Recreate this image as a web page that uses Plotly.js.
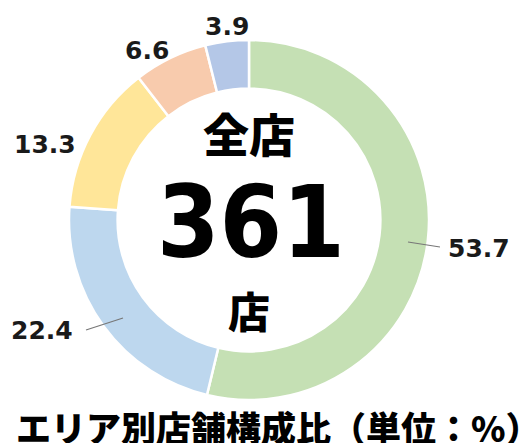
<!DOCTYPE html>
<html><head><meta charset="utf-8">
<script src="https://cdn.plot.ly/plotly-3.0.1.min.js"></script>
<style>html,body{margin:0;padding:0;background:#fff}#chart{width:521px;height:443px}</style>
</head><body><div id="chart"></div>
<script>
// ---- data ----
const areas = ["エリアA", "エリアB", "エリアC", "エリアD", "エリアE"];
const shares = [53.7, 22.4, 13.3, 6.6, 3.9];
const valueLabels = ["53.7", "22.4", "13.3", "6.6", "3.9"];
const totalStores = "361";
const titleText = "エリア別店舗構成比（単位：%）";

// ---- styles / layout helpers ----
const colors = ["#C5E0B4", "#BDD7EE", "#FFE699", "#F8CBAD", "#B4C7E7"];
const W = 521, H = 443;
const px = x => x / W, py = y => 1 - y / H;
// label positions (pixel centres) for each slice label
const labelPos = [[479, 248], [42, 330], [45, 144], [147, 51], [227, 26]];

const numFont = {family: "DejaVu Sans", size: 25, color: "#1a1a1a", weight: "bold"};
const cjk = "Noto Sans CJK JP";

const annotations = valueLabels.map((t, i) => ({
  text: "<b>" + t + "</b>", x: px(labelPos[i][0]), y: py(labelPos[i][1]),
  xref: "paper", yref: "paper", showarrow: false, xanchor: "center", yanchor: "middle",
  font: numFont
}));
annotations.push(
  {text: "全店", x: px(249), y: py(132), xref: "paper", yref: "paper", showarrow: false,
   xanchor: "center", yanchor: "middle", font: {family: cjk, size: 46, color: "#000", weight: 900}},
  {text: "<b>" + totalStores + "</b>", x: px(251), y: py(222), xref: "paper", yref: "paper", showarrow: false,
   xanchor: "center", yanchor: "middle",
   font: {family: "DejaVu Sans Condensed, DejaVu Sans", size: 100, color: "#000"}},
  {text: "店", x: px(249), y: py(309), xref: "paper", yref: "paper", showarrow: false,
   xanchor: "center", yanchor: "middle", font: {family: cjk, size: 42, color: "#000", weight: 900}},
  {text: titleText, x: px(14), y: py(426), xref: "paper", yref: "paper", showarrow: false,
   xanchor: "left", yanchor: "middle", font: {family: cjk, size: 35, color: "#000", weight: 900}}
);

const shapes = [
  {type: "line", xref: "paper", yref: "paper", x0: px(408), y0: py(242), x1: px(440), y1: py(247),
   line: {color: "#777", width: 1.2}},
  {type: "line", xref: "paper", yref: "paper", x0: px(123), y0: py(318), x1: px(86), y1: py(330),
   line: {color: "#777", width: 1.2}}
];

const trace = {
  type: "pie", labels: areas, values: shares, hole: 0.73, sort: false,
  direction: "clockwise", rotation: 0, textinfo: "none", hoverinfo: "label+value",
  marker: {colors: colors, line: {color: "#ffffff", width: 2.5}},
  domain: {x: [px(69), px(429)], y: [py(401), py(39)]}, showlegend: false
};

Plotly.newPlot("chart", [trace], {
  width: W, height: H, margin: {l: 0, r: 0, t: 0, b: 0},
  paper_bgcolor: "#fff", annotations: annotations, shapes: shapes, showlegend: false
}, {displayModeBar: false, staticPlot: true});
</script></body></html>
